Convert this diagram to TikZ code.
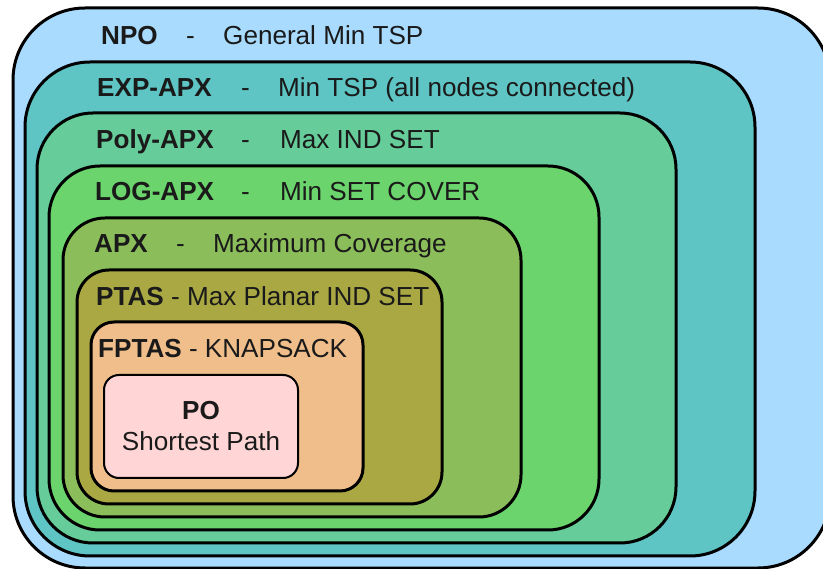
\documentclass[tikz,border=0pt]{standalone}
\usepackage{fontspec}
\setmainfont{Liberation Sans}
\definecolor{npoc}{HTML}{A8DBFE}
\definecolor{expc}{HTML}{5EC4C4}
\definecolor{polyc}{HTML}{66CC99}
\definecolor{logc}{HTML}{6CD46C}
\definecolor{apxc}{HTML}{8BBE5A}
\definecolor{ptasc}{HTML}{A9A843}
\definecolor{fptasc}{HTML}{F0BE8A}
\definecolor{poc}{HTML}{FFD5D5}
\definecolor{ink}{HTML}{1A1A1A}
\tikzset{
  classbox/.style={draw=black, line width=3pt, rectangle, inner sep=0pt, outer sep=0pt},
  lbl/.style={anchor=base west, inner sep=0pt, text=ink, font=\fontsize{26.1}{30}\selectfont},
  lblc/.style={anchor=base, inner sep=0pt, text=ink, font=\fontsize{26.1}{30}\selectfont},
}
\begin{document}
\begin{tikzpicture}[x=1pt, y=-1pt]
  \clip (0,0) rectangle (823,569);
  \fill[white] (0,0) rectangle (823,569);

  % nested complexity classes, outermost first
  \node[classbox, fill=npoc,   rounded corners=72pt, minimum width=817pt, minimum height=560pt] (npo)   at (421.5,288)   {};
  \node[classbox, fill=expc,   rounded corners=65pt, minimum width=730pt, minimum height=494pt] (exp)   at (390,309)     {};
  \node[classbox, fill=polyc,  rounded corners=56pt, minimum width=639pt, minimum height=430pt] (poly)  at (356.5,328)   {};
  \node[classbox, fill=logc,   rounded corners=51pt, minimum width=550pt, minimum height=364pt] (log)   at (324,348)     {};
  \node[classbox, fill=apxc,   rounded corners=42pt, minimum width=458pt, minimum height=299pt] (apx)   at (292,367.5)   {};
  \node[classbox, fill=ptasc,  rounded corners=32pt, minimum width=365pt, minimum height=234pt] (ptas)  at (259.5,387)   {};
  \node[classbox, fill=fptasc, rounded corners=23pt, minimum width=272pt, minimum height=169pt] (fptas) at (227,406.5)   {};
  \node[classbox, fill=poc, line width=2pt, rounded corners=15pt, minimum width=194pt, minimum height=103pt] (po) at (201,426.5) {};

  % class names and example problems
  \node[lbl] (npo-name)  at (101,45)  {\textbf{NPO}};
  \node[lbl] (npo-dash)  at (186,45)  {-};
  \node[lbl] (npo-desc)  at (223,45)  {General Min TSP};

  \node[lbl] (exp-name)  at (97,97)   {\textbf{EXP-APX}};
  \node[lbl] (exp-dash)  at (241,97)  {-};
  \node[lbl] (exp-desc)  at (278,97)  {Min TSP (all nodes connected)};

  \node[lbl] (poly-name) at (96,149)  {\textbf{Poly-APX}};
  \node[lbl] (poly-dash) at (241,149) {-};
  \node[lbl] (poly-desc) at (280,149) {Max IND SET};

  \node[lbl] (log-name)  at (95,201)  {\textbf{LOG-APX}};
  \node[lbl] (log-dash)  at (241,201) {-};
  \node[lbl] (log-desc)  at (280,201) {Min SET COVER};

  \node[lbl] (apx-name)  at (94,253)  {\textbf{APX}};
  \node[lbl] (apx-dash)  at (176,253) {-};
  \node[lbl] (apx-desc)  at (213,253) {Maximum Coverage};

  \node[lbl] (ptas-name) at (96,305.5) {\textbf{PTAS} - Max Planar IND SET};
  \node[lbl] (fptas-name) at (98,358) {\textbf{FPTAS} - KNAPSACK};

  \node[lblc] (po-name)  at (201,420) {\textbf{PO}};
  \node[lblc] (po-desc)  at (201,451) {Shortest Path};
\end{tikzpicture}
\end{document}
